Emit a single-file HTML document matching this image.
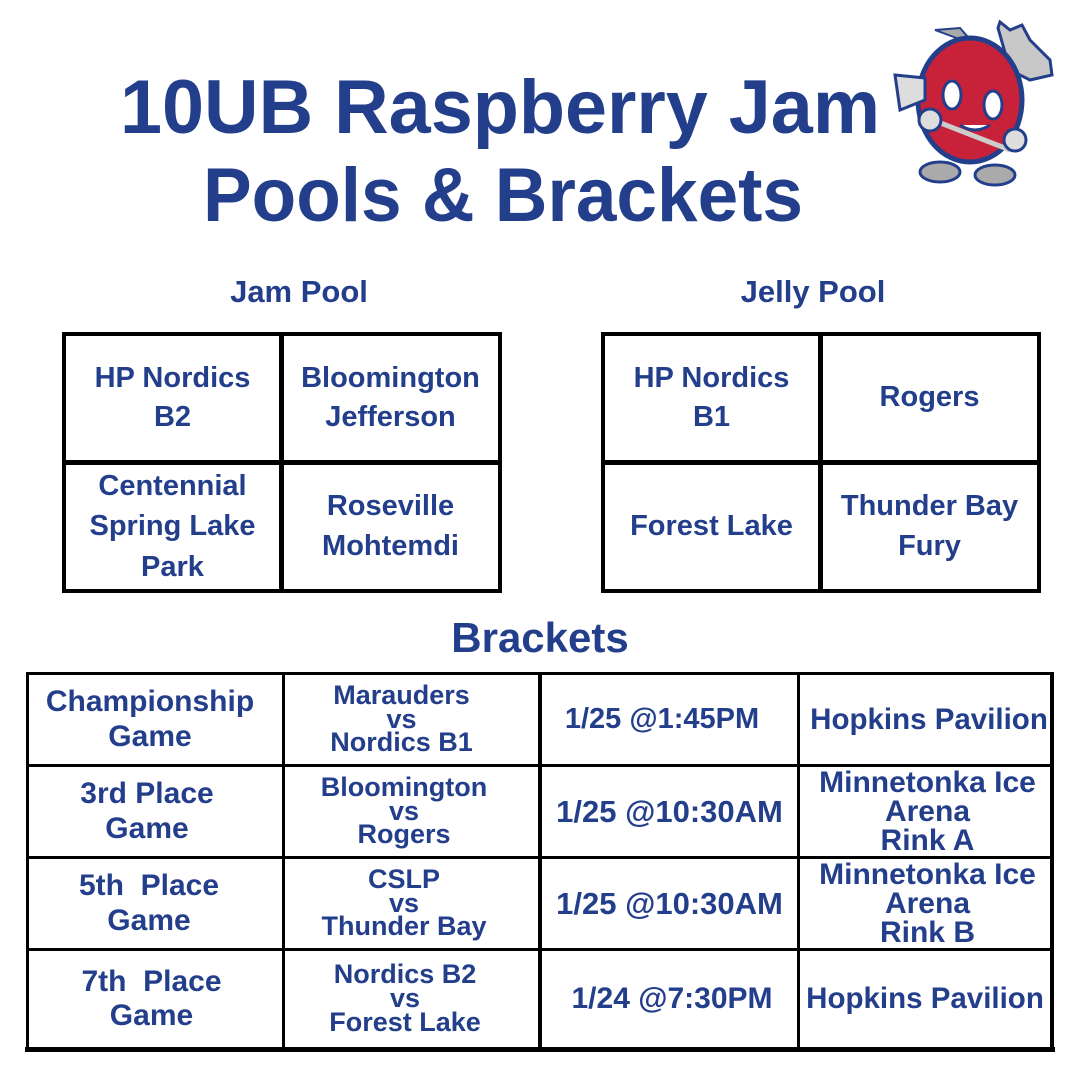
<!DOCTYPE html>
<html><head><meta charset="utf-8"><style>
body{margin:0;width:1080px;height:1080px;background:#fff;position:relative;overflow:hidden;font-family:"Liberation Sans",sans-serif;font-weight:bold;color:#233e8b}
.c{position:absolute;display:flex;align-items:center;justify-content:center;text-align:center;line-height:1.35;white-space:nowrap}
.l{position:absolute;background:#000}
.b{line-height:0.88}
</style></head><body>
<svg width="1080" height="240" style="position:absolute;left:0;top:0">
<text x="120" y="133" textLength="760" lengthAdjust="spacingAndGlyphs" font-family="Liberation Sans" font-weight="bold" font-size="76" fill="#233e8b">10UB Raspberry Jam</text>
<text x="203" y="221" textLength="600" lengthAdjust="spacingAndGlyphs" font-family="Liberation Sans" font-weight="bold" font-size="76" fill="#233e8b">Pools &amp; Brackets</text>
<g>
<path d="M998 28 L1000 22 L1010 30 L1022 25 L1030 40 L1050 60 L1052 75 L1030 80 L1010 70 Z" fill="#c8c8c8" stroke="#233e8b" stroke-width="3"/>
<path d="M935 30 L960 28 L975 45 Z" fill="#aaa" stroke="#233e8b" stroke-width="2"/>
<ellipse cx="970" cy="100" rx="52" ry="62" fill="#c8213a" stroke="#233e8b" stroke-width="5"/>
<path d="M895 75 L925 78 L925 100 L900 110 Z" fill="#ddd" stroke="#233e8b" stroke-width="3"/>
<line x1="920" y1="115" x2="1010" y2="150" stroke="#ccc" stroke-width="5"/>
<ellipse cx="952" cy="95" rx="9" ry="14" fill="#fff" stroke="#233e8b" stroke-width="3"/>
<ellipse cx="993" cy="105" rx="9" ry="14" fill="#fff" stroke="#233e8b" stroke-width="3"/>
<path d="M960 125 Q975 135 990 125" fill="#fff" stroke="#233e8b" stroke-width="3"/>
<ellipse cx="940" cy="172" rx="20" ry="10" fill="#aaa" stroke="#233e8b" stroke-width="3"/>
<ellipse cx="995" cy="175" rx="20" ry="10" fill="#aaa" stroke="#233e8b" stroke-width="3"/>
<circle cx="930" cy="120" r="11" fill="#ddd" stroke="#233e8b" stroke-width="3"/>
<circle cx="1015" cy="140" r="11" fill="#ddd" stroke="#233e8b" stroke-width="3"/>
</g>
</svg>

<div class="c" style="left:79px;top:270px;width:440px;height:44px;font-size:31px">Jam Pool</div>
<div class="c" style="left:601px;top:270px;width:424px;height:44px;font-size:31px">Jelly Pool</div>

<div style="position:absolute;left:62px;top:332px;width:432px;height:253px;border:4px solid #000"></div>
<div class="l" style="left:279px;top:332px;width:5px;height:261px"></div>
<div class="l" style="left:62px;top:460px;width:440px;height:5px"></div>
<div class="c" style="left:66px;top:336px;width:213px;height:124px;font-size:29px">HP Nordics<br>B2</div>
<div class="c" style="left:284px;top:336px;width:213px;height:124px;font-size:29px">Bloomington<br>Jefferson</div>
<div class="c" style="left:66px;top:465px;width:213px;height:123px;font-size:29px;line-height:1.4">Centennial<br>Spring Lake<br>Park</div>
<div class="c" style="left:284px;top:465px;width:213px;height:123px;font-size:29px">Roseville<br>Mohtemdi</div>

<div style="position:absolute;left:601px;top:332px;width:432px;height:253px;border:4px solid #000"></div>
<div class="l" style="left:818px;top:332px;width:5px;height:261px"></div>
<div class="l" style="left:601px;top:460px;width:440px;height:5px"></div>
<div class="c" style="left:605px;top:336px;width:213px;height:124px;font-size:29px">HP Nordics<br>B1</div>
<div class="c" style="left:823px;top:336px;width:213px;height:124px;font-size:29px">Rogers</div>
<div class="c" style="left:605px;top:465px;width:213px;height:123px;font-size:29px">Forest Lake</div>
<div class="c" style="left:823px;top:465px;width:213px;height:123px;font-size:29px">Thunder Bay<br>Fury</div>

<div class="c" style="left:340px;top:613px;width:400px;height:50px;font-size:42px">Brackets</div>

<div class="l" style="left:26px;top:672px;width:1028px;height:3px"></div>
<div class="l" style="left:26px;top:764px;width:1028px;height:3px"></div>
<div class="l" style="left:26px;top:856px;width:1028px;height:3px"></div>
<div class="l" style="left:26px;top:948px;width:1028px;height:3px"></div>
<div class="l" style="left:25px;top:1047px;width:1030px;height:5px"></div>
<div class="l" style="left:26px;top:672px;width:3px;height:378px"></div>
<div class="l" style="left:282px;top:672px;width:3px;height:378px"></div>
<div class="l" style="left:538px;top:672px;width:4px;height:378px"></div>
<div class="l" style="left:797px;top:672px;width:3px;height:378px"></div>
<div class="l" style="left:1050px;top:672px;width:4px;height:378px"></div>

<div class="c" style="left:29px;top:675px;width:242px;height:89px;font-size:30px;line-height:1.15">Championship<br>Game</div>
<div class="c" style="left:29px;top:767px;width:236px;height:89px;font-size:30px;line-height:1.15">3rd Place<br>Game</div>
<div class="c" style="left:29px;top:859px;width:240px;height:89px;font-size:30px;line-height:1.15">5th&nbsp; Place<br>Game</div>
<div class="c" style="left:29px;top:951px;width:245px;height:96px;font-size:30px;line-height:1.15">7th&nbsp; Place<br>Game</div>

<div class="c b" style="left:285px;top:675px;width:233px;height:89px;font-size:27px">Marauders<br>vs<br>Nordics B1</div>
<div class="c b" style="left:285px;top:767px;width:238px;height:89px;font-size:27px">Bloomington<br>vs<br>Rogers</div>
<div class="c b" style="left:285px;top:859px;width:238px;height:89px;font-size:27px">CSLP<br>vs<br>Thunder Bay</div>
<div class="c b" style="left:285px;top:951px;width:240px;height:96px;font-size:27px">Nordics B2<br>vs<br>Forest Lake</div>

<div class="c" style="left:542px;top:675px;width:240px;height:89px;font-size:29px">1/25 @1:45PM</div>
<div class="c" style="left:542px;top:767px;width:255px;height:89px;font-size:31px">1/25 @10:30AM</div>
<div class="c" style="left:542px;top:859px;width:255px;height:89px;font-size:31px">1/25 @10:30AM</div>
<div class="c" style="left:542px;top:951px;width:260px;height:96px;font-size:30px">1/24 @7:30PM</div>

<div class="c" style="left:800px;top:675px;width:258px;height:89px;font-size:29.5px">Hopkins Pavilion</div>
<div class="c b" style="left:800px;top:767px;width:255px;height:89px;font-size:30px;line-height:0.97">Minnetonka Ice<br>Arena<br>Rink A</div>
<div class="c b" style="left:800px;top:859px;width:255px;height:89px;font-size:30px;line-height:0.97">Minnetonka Ice<br>Arena<br>Rink B</div>
<div class="c" style="left:800px;top:951px;width:250px;height:96px;font-size:29.5px">Hopkins Pavilion</div>
</body></html>
